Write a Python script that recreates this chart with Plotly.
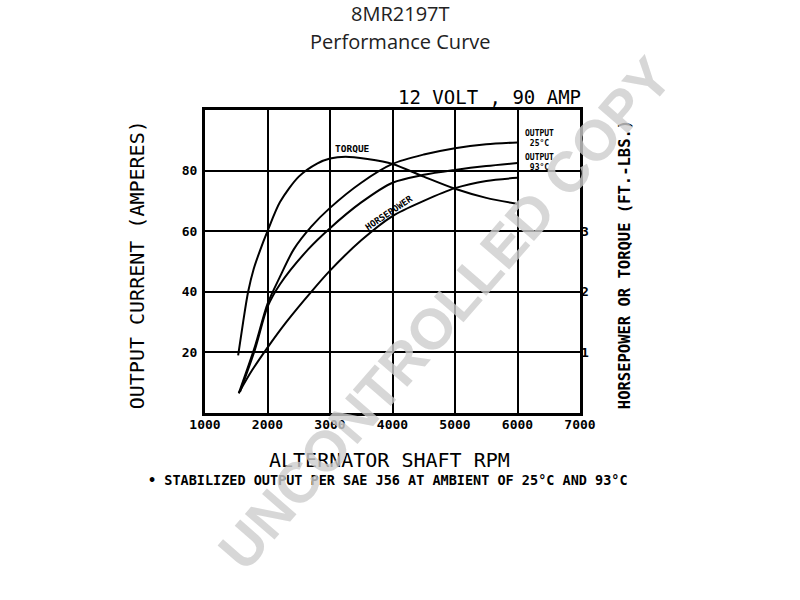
import plotly.graph_objects as go

# ---- data ----
rpm_ticks = [1000, 2000, 3000, 4000, 5000, 6000, 7000]
amp_ticks = [20, 40, 60, 80]
hp_ticks = [1, 2, 3]

out25_rpm = [1540, 1800, 2000, 2200, 2420, 2700, 3000, 3500, 4000, 4500, 5000, 5500, 6000]
out25_amp = [6.5, 22, 36, 45, 54, 61.5, 67.7, 76, 82.2, 85.3, 87.4, 88.7, 89.3]

out93_rpm = [1560, 1800, 2000, 2200, 2650, 3000, 3500, 4000, 4500, 5000, 5500, 6000]
out93_amp = [7, 21, 35, 42.5, 54, 61, 69.5, 76, 78.6, 80.2, 81.5, 82.5]

torque_rpm = [1530, 1610, 1690, 1780, 1880, 2000, 2200, 2500, 2800, 3000, 3250, 3600, 4000, 4500, 5000, 5500, 6000]
torque_val = [0.95, 1.5, 2.0, 2.38, 2.68, 3.0, 3.48, 3.9, 4.12, 4.2, 4.23, 4.19, 4.11, 3.9, 3.7, 3.55, 3.45]

hp_rpm = [1540, 1750, 2000, 2300, 2700, 3000, 3500, 4000, 4500, 5000, 5500, 6000]
hp_val = [0.33, 0.7, 1.08, 1.5, 2.0, 2.35, 2.85, 3.25, 3.5, 3.71, 3.83, 3.88]

MONO = "DejaVu Sans Mono"
line_style = dict(color="black", width=2, shape="spline", smoothing=0.8)

fig = go.Figure()
fig.add_trace(go.Scatter(x=out25_rpm, y=out25_amp, mode="lines", line=line_style, name="Output 25°C"))
fig.add_trace(go.Scatter(x=out93_rpm, y=out93_amp, mode="lines", line=line_style, name="Output 93°C"))
fig.add_trace(go.Scatter(x=torque_rpm, y=torque_val, mode="lines", line=line_style, name="Torque", yaxis="y2"))
fig.add_trace(go.Scatter(x=hp_rpm, y=hp_val, mode="lines", line=line_style, name="Horsepower", yaxis="y2"))

ann = []
def A(text, x, y, size, bold=False, xref="paper", yref="paper", angle=0, xanchor="center", yanchor="middle",
      family=MONO, color="black"):
    t = f"<b>{text}</b>" if bold else text
    ann.append(dict(text=t, x=x, y=y, xref=xref, yref=yref, textangle=angle, showarrow=False,
                    xanchor=xanchor, yanchor=yanchor, font=dict(family=family, size=size, color=color)))

A("8MR2197T", 0.52, 1.317, 20, family="Open Sans", color="#222")
A("Performance Curve", 0.52, 1.226, 20, family="Open Sans", color="#222")
A("12 VOLT , 90 AMP", 1.008, 1.043, 19, xanchor="right")
A("OUTPUT CURRENT (AMPERES)", -0.181, 0.488, 20, angle=-90)
A("HORSEPOWER OR TORQUE (FT.-LBS.)", 1.12, 0.488, 15.5, bold=True, angle=-90)
A("ALTERNATOR SHAFT RPM", 0.491, -0.155, 20)
A("• STABILIZED OUTPUT PER SAE J56 AT AMBIENT OF 25°C AND 93°C", 0.487, -0.221, 13.5, bold=True)
A("TORQUE", 3352, 87.3, 9.5, bold=True, xref="x", yref="y")
A("OUTPUT<br>25°C", 6090, 90.6, 8, bold=True, xref="x", yref="y", xanchor="left")
A("OUTPUT<br>93°C", 6090, 82.6, 8, bold=True, xref="x", yref="y", xanchor="left")
A("HORSEPOWER", 3944, 65.9, 9, bold=True, xref="x", yref="y", angle=-34)
A("UNCONTROLLED COPY", 0.64, 0.33, 57, bold=True, angle=-49, family="Liberation Sans",
  color="rgba(205,205,205,0.8)")

fig.update_layout(
    width=800, height=600,
    margin=dict(l=205, r=220, t=110, b=187),
    paper_bgcolor="white", plot_bgcolor="white",
    showlegend=False,
    annotations=ann,
    xaxis=dict(range=[1000, 7000], tickvals=rpm_ticks, showgrid=True, gridcolor="black", gridwidth=2,
               showline=True, mirror=True, linecolor="black", linewidth=3, zeroline=False,
               ticks="", ticklabelstandoff=-3,
               tickfont=dict(family=MONO, size=13, color="black", weight="bold")),
    yaxis=dict(range=[0, 100], tickvals=amp_ticks, showgrid=True, gridcolor="black", gridwidth=2,
               showline=True, mirror=True, linecolor="black", linewidth=3, zeroline=False,
               ticks="", ticklabelstandoff=2,
               tickfont=dict(family=MONO, size=13, color="black", weight="bold")),
    yaxis2=dict(range=[0, 5], tickvals=hp_ticks, overlaying="y", side="right", showgrid=False,
                zeroline=False, showline=False, ticks="",
                tickfont=dict(family=MONO, size=13, color="black", weight="bold")),
)

fig.write_html("out.html", config={"displayModeBar": False},
               post_script="document.body.style.margin='0';")
